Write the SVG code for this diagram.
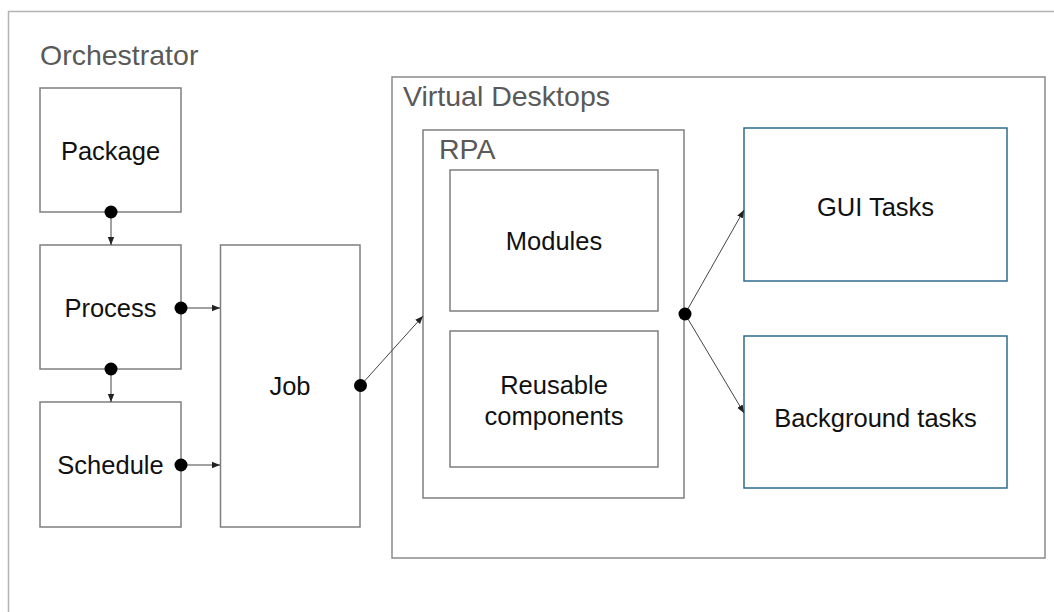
<svg xmlns="http://www.w3.org/2000/svg" width="1054" height="612" viewBox="0 0 1054 612">
<defs>
<style>
.frame{fill:none;stroke:#b3b3b3;stroke-width:1.5}
.vd{fill:none;stroke:#8a8a8a;stroke-width:1.5}
.box{fill:#fff;stroke:#7f7f7f;stroke-width:1.5}
.blue{fill:#fff;stroke:#2e6a8c;stroke-width:1.5}
.title{font-family:"Liberation Sans",Arial,sans-serif;font-size:28.5px;fill:#595959}
.lbl{font-family:"Liberation Sans",Arial,sans-serif;font-size:25.5px;fill:#111;text-anchor:middle}
.conn{stroke:#444;stroke-width:1;fill:none;marker-end:url(#ah)}
.dot{fill:#000}
</style>
<marker id="ah" viewBox="0 0 10 10" refX="10" refY="5" markerWidth="8" markerHeight="8" markerUnits="userSpaceOnUse" orient="auto">
<path d="M0,1 L10,5 L0,9 Z" fill="#222"/>
</marker>
</defs>
<rect width="1054" height="612" fill="#fff"/>
<g id="orchestrator">
<rect class="frame" x="8.5" y="11.5" width="1070" height="640"/>
<text class="title" x="40" y="65">Orchestrator</text>
</g>
<g id="virtual-desktops">
<rect class="vd" x="392" y="77" width="653" height="481"/>
<text class="title" x="403" y="106">Virtual Desktops</text>
</g>
<g id="rpa">
<rect class="box" x="423" y="130" width="261" height="368"/>
<text class="title" x="439" y="159">RPA</text>
</g>
<g id="package">
<rect class="box" x="40" y="88" width="141" height="124"/>
<text class="lbl" x="110.5" y="159.5">Package</text>
</g>
<g id="process">
<rect class="box" x="40" y="245" width="141" height="124"/>
<text class="lbl" x="110.5" y="316.5">Process</text>
</g>
<g id="schedule">
<rect class="box" x="40" y="402" width="141" height="125"/>
<text class="lbl" x="110.5" y="473.5">Schedule</text>
</g>
<g id="job">
<rect class="box" x="220.5" y="245" width="139.5" height="282"/>
<text class="lbl" x="290" y="395">Job</text>
</g>
<g id="modules">
<rect class="box" x="450" y="170" width="208" height="141"/>
<text class="lbl" x="554" y="250">Modules</text>
</g>
<g id="reusable-components">
<rect class="box" x="450" y="331" width="208" height="136"/>
<text class="lbl" x="554" y="394">Reusable</text>
<text class="lbl" x="554" y="424.5">components</text>
</g>
<g id="gui-tasks">
<rect class="blue" x="744" y="128" width="263" height="153"/>
<text class="lbl" x="875.5" y="215.5">GUI Tasks</text>
</g>
<g id="background-tasks">
<rect class="blue" x="744" y="336" width="263" height="152"/>
<text class="lbl" x="875.5" y="427">Background tasks</text>
</g>
<g id="connectors">
<line class="conn" x1="111" y1="212" x2="111" y2="245"/>
<line class="conn" x1="181" y1="308" x2="220" y2="308"/>
<line class="conn" x1="111" y1="369" x2="111" y2="402"/>
<line class="conn" x1="181" y1="465" x2="220" y2="465"/>
<line class="conn" x1="360.5" y1="385.5" x2="423" y2="316"/>
<line class="conn" x1="685" y1="314" x2="744" y2="210"/>
<line class="conn" x1="685" y1="314" x2="744" y2="413"/>
<circle class="dot" cx="111" cy="212" r="6.5"/>
<circle class="dot" cx="181" cy="308" r="6.5"/>
<circle class="dot" cx="111" cy="369" r="6.5"/>
<circle class="dot" cx="181" cy="465" r="6.5"/>
<circle class="dot" cx="360.5" cy="385.5" r="6.5"/>
<circle class="dot" cx="685" cy="314" r="6.5"/>
</g>
</svg>
